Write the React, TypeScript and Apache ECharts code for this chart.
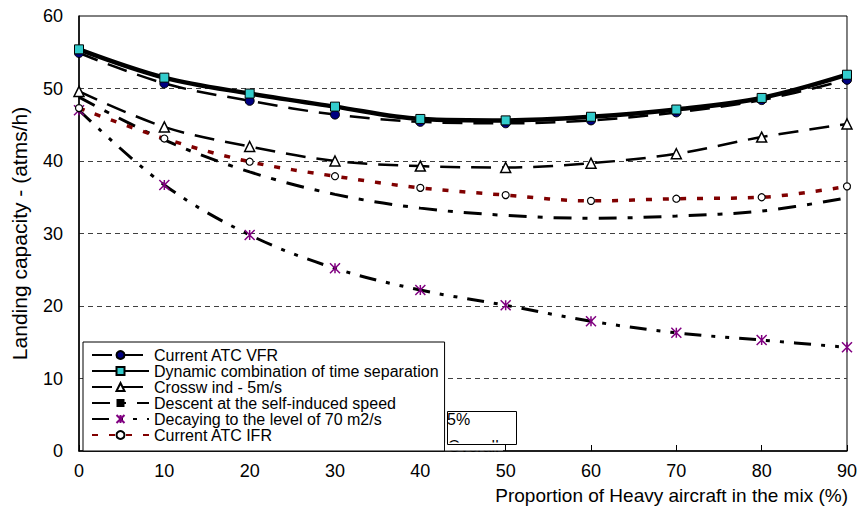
import React, { useEffect, useRef } from 'react';
import * as echarts from 'echarts';

const xValues = [0, 10, 20, 30, 40, 50, 60, 70, 80, 90];
const currentVFR = [54.9, 50.7, 48.3, 46.4, 45.4, 45.2, 45.6, 46.7, 48.4, 51.2];
const dynamicComb = [55.4, 51.5, 49.3, 47.5, 45.8, 45.6, 46.1, 47.1, 48.7, 51.9];
const crosswind = [49.6, 44.7, 42.0, 40.0, 39.3, 39.1, 39.7, 41.0, 43.3, 45.1];
const descent = [48.8, 42.9, 38.5, 35.4, 33.5, 32.5, 32.1, 32.4, 33.1, 34.9];
const decaying = [47.0, 36.7, 29.8, 25.2, 22.2, 20.1, 17.9, 16.3, 15.3, 14.3];
const currentIFR = [47.3, 43.1, 39.9, 37.9, 36.3, 35.3, 34.5, 34.8, 35.0, 36.5];

const seriesNames = [
  'Current ATC VFR',
  'Dynamic combination of time separation',
  'Crossw ind - 5m/s',
  'Descent at the self-induced speed',
  'Decaying to the level of 70 m2/s',
  'Current ATC IFR',
];

const xAxisTitle = 'Proportion of Heavy aircraft in the mix (%)';
const yAxisTitle = 'Landing capacity - (atms/h)';
const boxTexts = ['5%', 'Overall'];

const FONT = 'Arial, "Liberation Sans", sans-serif';

const pairs = (arr: number[]) => xValues.map((x, i) => [x, arr[i]]);

export default function App() {
  const ref = useRef<HTMLDivElement>(null);
  useEffect(() => {
    if (!ref.current) return;
    const chart = echarts.init(ref.current, null, { renderer: 'svg' });
    const smooth = 0.35;
    const option: any = {
      animation: false,
      backgroundColor: '#fff',
      grid: {
        left: 79,
        right: 11,
        top: 16,
        bottom: 64,
        show: true,
        borderColor: '#000',
        borderWidth: 1,
        backgroundColor: 'transparent',
      },
      xAxis: {
        type: 'value',
        min: 0,
        max: 90,
        interval: 10,
        axisLine: { show: true, lineStyle: { color: '#000', width: 1.5 } },
        axisTick: { show: true, inside: true, length: 6, lineStyle: { color: '#000', width: 1 } },
        axisLabel: { color: '#000', fontSize: 18, fontFamily: FONT, margin: 11 },
        splitLine: { show: false },
        name: xAxisTitle,
        nameLocation: 'end',
        nameGap: 1,
        nameTextStyle: {
          color: '#000',
          fontSize: 19,
          fontFamily: FONT,
          align: 'right',
          verticalAlign: 'top',
          padding: [35, 0, 0, 0],
        },
      },
      yAxis: {
        type: 'value',
        min: 0,
        max: 60,
        interval: 10,
        axisLine: { show: true, lineStyle: { color: '#000', width: 1.5 } },
        axisTick: { show: false },
        axisLabel: { color: '#000', fontSize: 18, fontFamily: FONT, margin: 16 },
        splitLine: {
          show: true,
          showMinLine: false,
          showMaxLine: false,
          lineStyle: { color: '#404040', width: 1, type: [5, 4] },
        },
        name: yAxisTitle,
        nameLocation: 'middle',
        nameGap: 49,
        nameRotate: 90,
        nameTextStyle: { color: '#000', fontSize: 21, fontFamily: FONT },
      },
      legend: {
        orient: 'vertical',
        left: 83,
        top: 342,
        itemWidth: 57,
        itemHeight: 10,
        itemGap: 0,
        padding: [5, 6, 8, 8],
        backgroundColor: '#fff',
        borderColor: '#000',
        borderWidth: 1,
        borderRadius: 0,
        textStyle: { color: '#000', fontSize: 16, fontFamily: FONT, lineHeight: 15.1 },
        data: seriesNames,
        selectedMode: false,
      },
      graphic: [
        {
          type: 'rect',
          left: 446,
          top: 410,
          z: 99,
          shape: { width: 67, height: 31 },
          style: { fill: '#fff' },
        },
        {
          type: 'text',
          left: 448,
          top: 438,
          z: 100,
          style: { text: boxTexts[1], fill: '#000', font: '16px ' + FONT },
        },
        {
          type: 'rect',
          left: 445,
          top: 442.5,
          z: 101,
          shape: { width: 58, height: 8 },
          style: { fill: '#fff' },
        },
        {
          type: 'rect',
          left: 445,
          top: 409,
          z: 102,
          shape: { width: 69, height: 33 },
          style: { fill: 'none', stroke: '#000', lineWidth: 1 },
        },
        {
          type: 'text',
          left: 447,
          top: 411,
          z: 103,
          style: { text: boxTexts[0], fill: '#000', font: '16px ' + FONT },
        },
      ],
      series: [
        {
          name: seriesNames[0],
          type: 'line',
          smooth,
          data: pairs(currentVFR),
          symbol: 'circle',
          symbolSize: 9,
          lineStyle: { color: '#000', width: 2.5, type: [20, 11] },
          itemStyle: { color: '#000080', borderColor: '#000', borderWidth: 1 },
          emphasis: { disabled: true },
        },
        {
          name: seriesNames[1],
          type: 'line',
          smooth,
          data: pairs(dynamicComb),
          symbol: 'rect',
          symbolSize: 9,
          lineStyle: { color: '#000', width: 4.5, type: 'solid' },
          itemStyle: { color: '#33CCCC', borderColor: '#000', borderWidth: 1 },
          emphasis: { disabled: true },
        },
        {
          name: seriesNames[2],
          type: 'line',
          smooth,
          data: pairs(crosswind),
          symbol: 'triangle',
          symbolSize: 10,
          lineStyle: { color: '#000', width: 2.5, type: [20, 11] },
          itemStyle: { color: '#fff', borderColor: '#000', borderWidth: 1.5 },
          emphasis: { disabled: true },
        },
        {
          name: seriesNames[3],
          type: 'line',
          smooth,
          data: pairs(descent),
          symbol: 'rect',
          symbolSize: [12, 4],
          showSymbol: false,
          lineStyle: { color: '#000', width: 3, type: [18, 11, 5, 11] },
          itemStyle: { color: '#000' },
          emphasis: { disabled: true },
        },
        {
          name: seriesNames[4],
          type: 'line',
          smooth,
          data: pairs(decaying),
          symbol: 'path://M0,0L10,10M10,0L0,10M5,0L5,10',
          symbolSize: 10,
          lineStyle: { color: '#000', width: 3, type: [17, 10, 4, 10, 4, 10] },
          itemStyle: { color: 'none', borderColor: '#800080', borderWidth: 1.5 },
          emphasis: { disabled: true },
        },
        {
          name: seriesNames[5],
          type: 'line',
          smooth,
          data: pairs(currentIFR),
          symbol: 'circle',
          symbolSize: 7,
          lineStyle: { color: '#800000', width: 3.5, type: [6, 11] },
          itemStyle: { color: '#fff', borderColor: '#000', borderWidth: 1.2 },
          emphasis: { disabled: true },
        },
      ],
    };
    chart.setOption(option);
    return () => chart.dispose();
  }, []);
  return (
    <div
      ref={ref}
      style={{ position: 'fixed', left: 0, top: 0, width: 860, height: 515, background: '#fff' }}
    />
  );
}
